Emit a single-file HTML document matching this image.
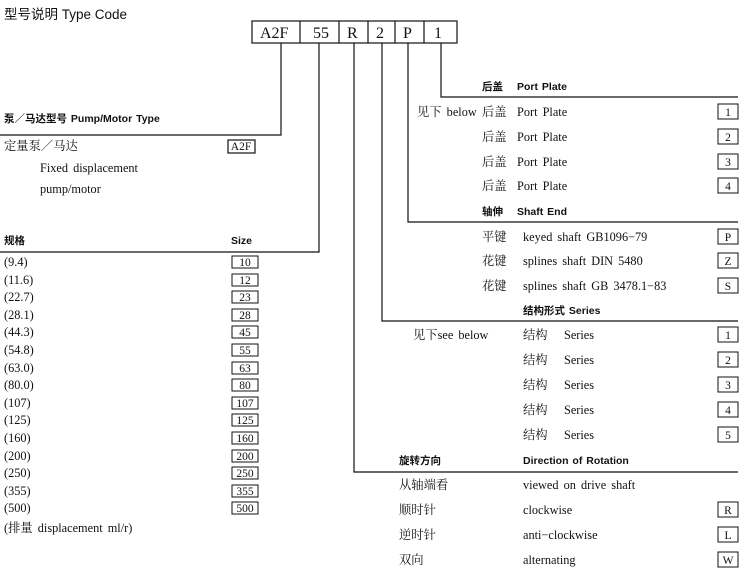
<!DOCTYPE html>
<html><head><meta charset="utf-8"><style>
html,body{margin:0;padding:0;background:#fff;}
svg{display:block}
.s{font-family:"Liberation Serif","Noto Serif CJK SC",serif;font-size:12.3px;fill:#111;word-spacing:2px}
.h{font-family:"Liberation Sans","Noto Sans CJK SC",sans-serif;font-size:10.5px;font-weight:bold;fill:#111;word-spacing:1px}
.c{font-family:"Liberation Serif","Noto Serif CJK SC",serif;font-size:16px;fill:#111}
.b{font-family:"Liberation Serif",serif;font-size:11.5px;fill:#111;text-anchor:middle}
</style></head><body>
<svg width="750" height="573" viewBox="0 0 750 573" xmlns="http://www.w3.org/2000/svg">
<text x="4" y="19" font-family="Liberation Sans,Noto Sans CJK SC,sans-serif" font-size="13.5" fill="#111">型号说明  Type Code</text>
<g fill="none" stroke="#111" stroke-width="1.2">
<rect x="252" y="21" width="205" height="22"/>
<line x1="300" y1="21" x2="300" y2="43"/><line x1="339" y1="21" x2="339" y2="43"/>
<line x1="368" y1="21" x2="368" y2="43"/><line x1="395" y1="21" x2="395" y2="43"/>
<line x1="424" y1="21" x2="424" y2="43"/>
<polyline points="281,43 281,135 0,135"/>
<polyline points="319,43 319,252 0,252"/>
<polyline points="354,43 354,472 738,472"/>
<polyline points="382,43 382,321 738,321"/>
<polyline points="408,43 408,222 738,222"/>
<polyline points="441,43 441,97 738,97"/>
<rect x="228" y="140" width="27" height="13"/>
</g>
<g class="c">
<text x="260" y="38">A2F</text><text x="313" y="38">55</text><text x="347" y="38">R</text>
<text x="376" y="38">2</text><text x="403" y="38">P</text><text x="434" y="38">1</text>
</g>
<text class="h" x="4" y="122">泵／马达型号 Pump/Motor Type</text>
<text class="s" x="4" y="150">定量泵／马达</text>
<text class="b" x="241" y="150">A2F</text>
<text class="s" x="40" y="172">Fixed displacement</text>
<text class="s" x="40" y="193">pump/motor</text>
<text class="h" x="4" y="244">规格</text><text class="h" x="231" y="244">Size</text>
<text class="s" x="4" y="532">(排量 displacement ml/r)</text>
<text class="h" x="482" y="90">后盖</text><text class="h" x="517" y="90">Port Plate</text>
<text class="s" x="417" y="116">见下 below</text>
<text class="h" x="482" y="215">轴伸</text><text class="h" x="517" y="215">Shaft End</text>
<text class="s" x="482" y="241">平键</text><text class="s" x="523" y="241">keyed shaft GB1096−79</text>
<text class="s" x="482" y="265">花键</text><text class="s" x="523" y="265">splines shaft DIN 5480</text>
<text class="s" x="482" y="290">花键</text><text class="s" x="523" y="290">splines shaft GB 3478.1−83</text>
<text class="h" x="523" y="314">结构形式  Series</text>
<text class="s" x="413" y="339">见下see below</text>
<text class="h" x="399" y="464">旋转方向</text><text class="h" x="523" y="464">Direction of Rotation</text>
<text class="s" x="399" y="489">从轴端看</text><text class="s" x="523" y="489">viewed on drive shaft</text>
<text class="s" x="399" y="514">顺时针</text><text class="s" x="523" y="514">clockwise</text>
<text class="s" x="399" y="539">逆时针</text><text class="s" x="523" y="539">anti−clockwise</text>
<text class="s" x="399" y="564">双向</text><text class="s" x="523" y="564">alternating</text>
<g fill="none" stroke="#111" stroke-width="1">
<rect x="718" y="104" width="20" height="15"/><rect x="718" y="129" width="20" height="15"/>
<rect x="718" y="154" width="20" height="15"/><rect x="718" y="178" width="20" height="15"/>
<rect x="718" y="229" width="20" height="15"/><rect x="718" y="253" width="20" height="15"/>
<rect x="718" y="278" width="20" height="15"/>
<rect x="718" y="327" width="20" height="15"/><rect x="718" y="352" width="20" height="15"/>
<rect x="718" y="377" width="20" height="15"/><rect x="718" y="402" width="20" height="15"/>
<rect x="718" y="427" width="20" height="15"/>
<rect x="718" y="502" width="20" height="15"/><rect x="718" y="527" width="20" height="15"/>
<rect x="718" y="552" width="20" height="15"/>
</g>
<g class="b">
<text x="728" y="116">1</text><text x="728" y="141">2</text><text x="728" y="166">3</text><text x="728" y="190">4</text>
<text x="728" y="241">P</text><text x="728" y="265">Z</text><text x="728" y="290">S</text>
<text x="728" y="339">1</text><text x="728" y="364">2</text><text x="728" y="389">3</text><text x="728" y="414">4</text><text x="728" y="439">5</text>
<text x="728" y="514">R</text><text x="728" y="539">L</text><text x="728" y="564">W</text>
</g>
<g class="s">
<text x="482" y="116">后盖</text><text x="517" y="116">Port Plate</text>
<text x="482" y="141">后盖</text><text x="517" y="141">Port Plate</text>
<text x="482" y="166">后盖</text><text x="517" y="166">Port Plate</text>
<text x="482" y="190">后盖</text><text x="517" y="190">Port Plate</text>
<text x="523" y="339">结构</text><text x="564" y="339">Series</text>
<text x="523" y="364">结构</text><text x="564" y="364">Series</text>
<text x="523" y="389">结构</text><text x="564" y="389">Series</text>
<text x="523" y="414">结构</text><text x="564" y="414">Series</text>
<text x="523" y="439">结构</text><text x="564" y="439">Series</text>
</g>
<g class="s">
<text x="4" y="266">(9.4)</text><text x="4" y="284">(11.6)</text><text x="4" y="301">(22.7)</text>
<text x="4" y="319">(28.1)</text><text x="4" y="336">(44.3)</text><text x="4" y="354">(54.8)</text>
<text x="4" y="372">(63.0)</text><text x="4" y="389">(80.0)</text><text x="4" y="407">(107)</text>
<text x="4" y="424">(125)</text><text x="4" y="442">(160)</text><text x="4" y="460">(200)</text>
<text x="4" y="477">(250)</text><text x="4" y="495">(355)</text><text x="4" y="512">(500)</text>
</g>
<g fill="none" stroke="#111" stroke-width="1">
<rect x="232" y="256" width="26" height="12"/><rect x="232" y="274" width="26" height="12"/>
<rect x="232" y="291" width="26" height="12"/><rect x="232" y="309" width="26" height="12"/>
<rect x="232" y="326" width="26" height="12"/><rect x="232" y="344" width="26" height="12"/>
<rect x="232" y="362" width="26" height="12"/><rect x="232" y="379" width="26" height="12"/>
<rect x="232" y="397" width="26" height="12"/><rect x="232" y="414" width="26" height="12"/>
<rect x="232" y="432" width="26" height="12"/><rect x="232" y="450" width="26" height="12"/>
<rect x="232" y="467" width="26" height="12"/><rect x="232" y="485" width="26" height="12"/>
<rect x="232" y="502" width="26" height="12"/>
</g>
<g class="b">
<text x="245" y="266">10</text><text x="245" y="284">12</text><text x="245" y="301">23</text>
<text x="245" y="319">28</text><text x="245" y="336">45</text><text x="245" y="354">55</text>
<text x="245" y="372">63</text><text x="245" y="389">80</text><text x="245" y="407">107</text>
<text x="245" y="424">125</text><text x="245" y="442">160</text><text x="245" y="460">200</text>
<text x="245" y="477">250</text><text x="245" y="495">355</text><text x="245" y="512">500</text>
</g>
</svg>
</body></html>
